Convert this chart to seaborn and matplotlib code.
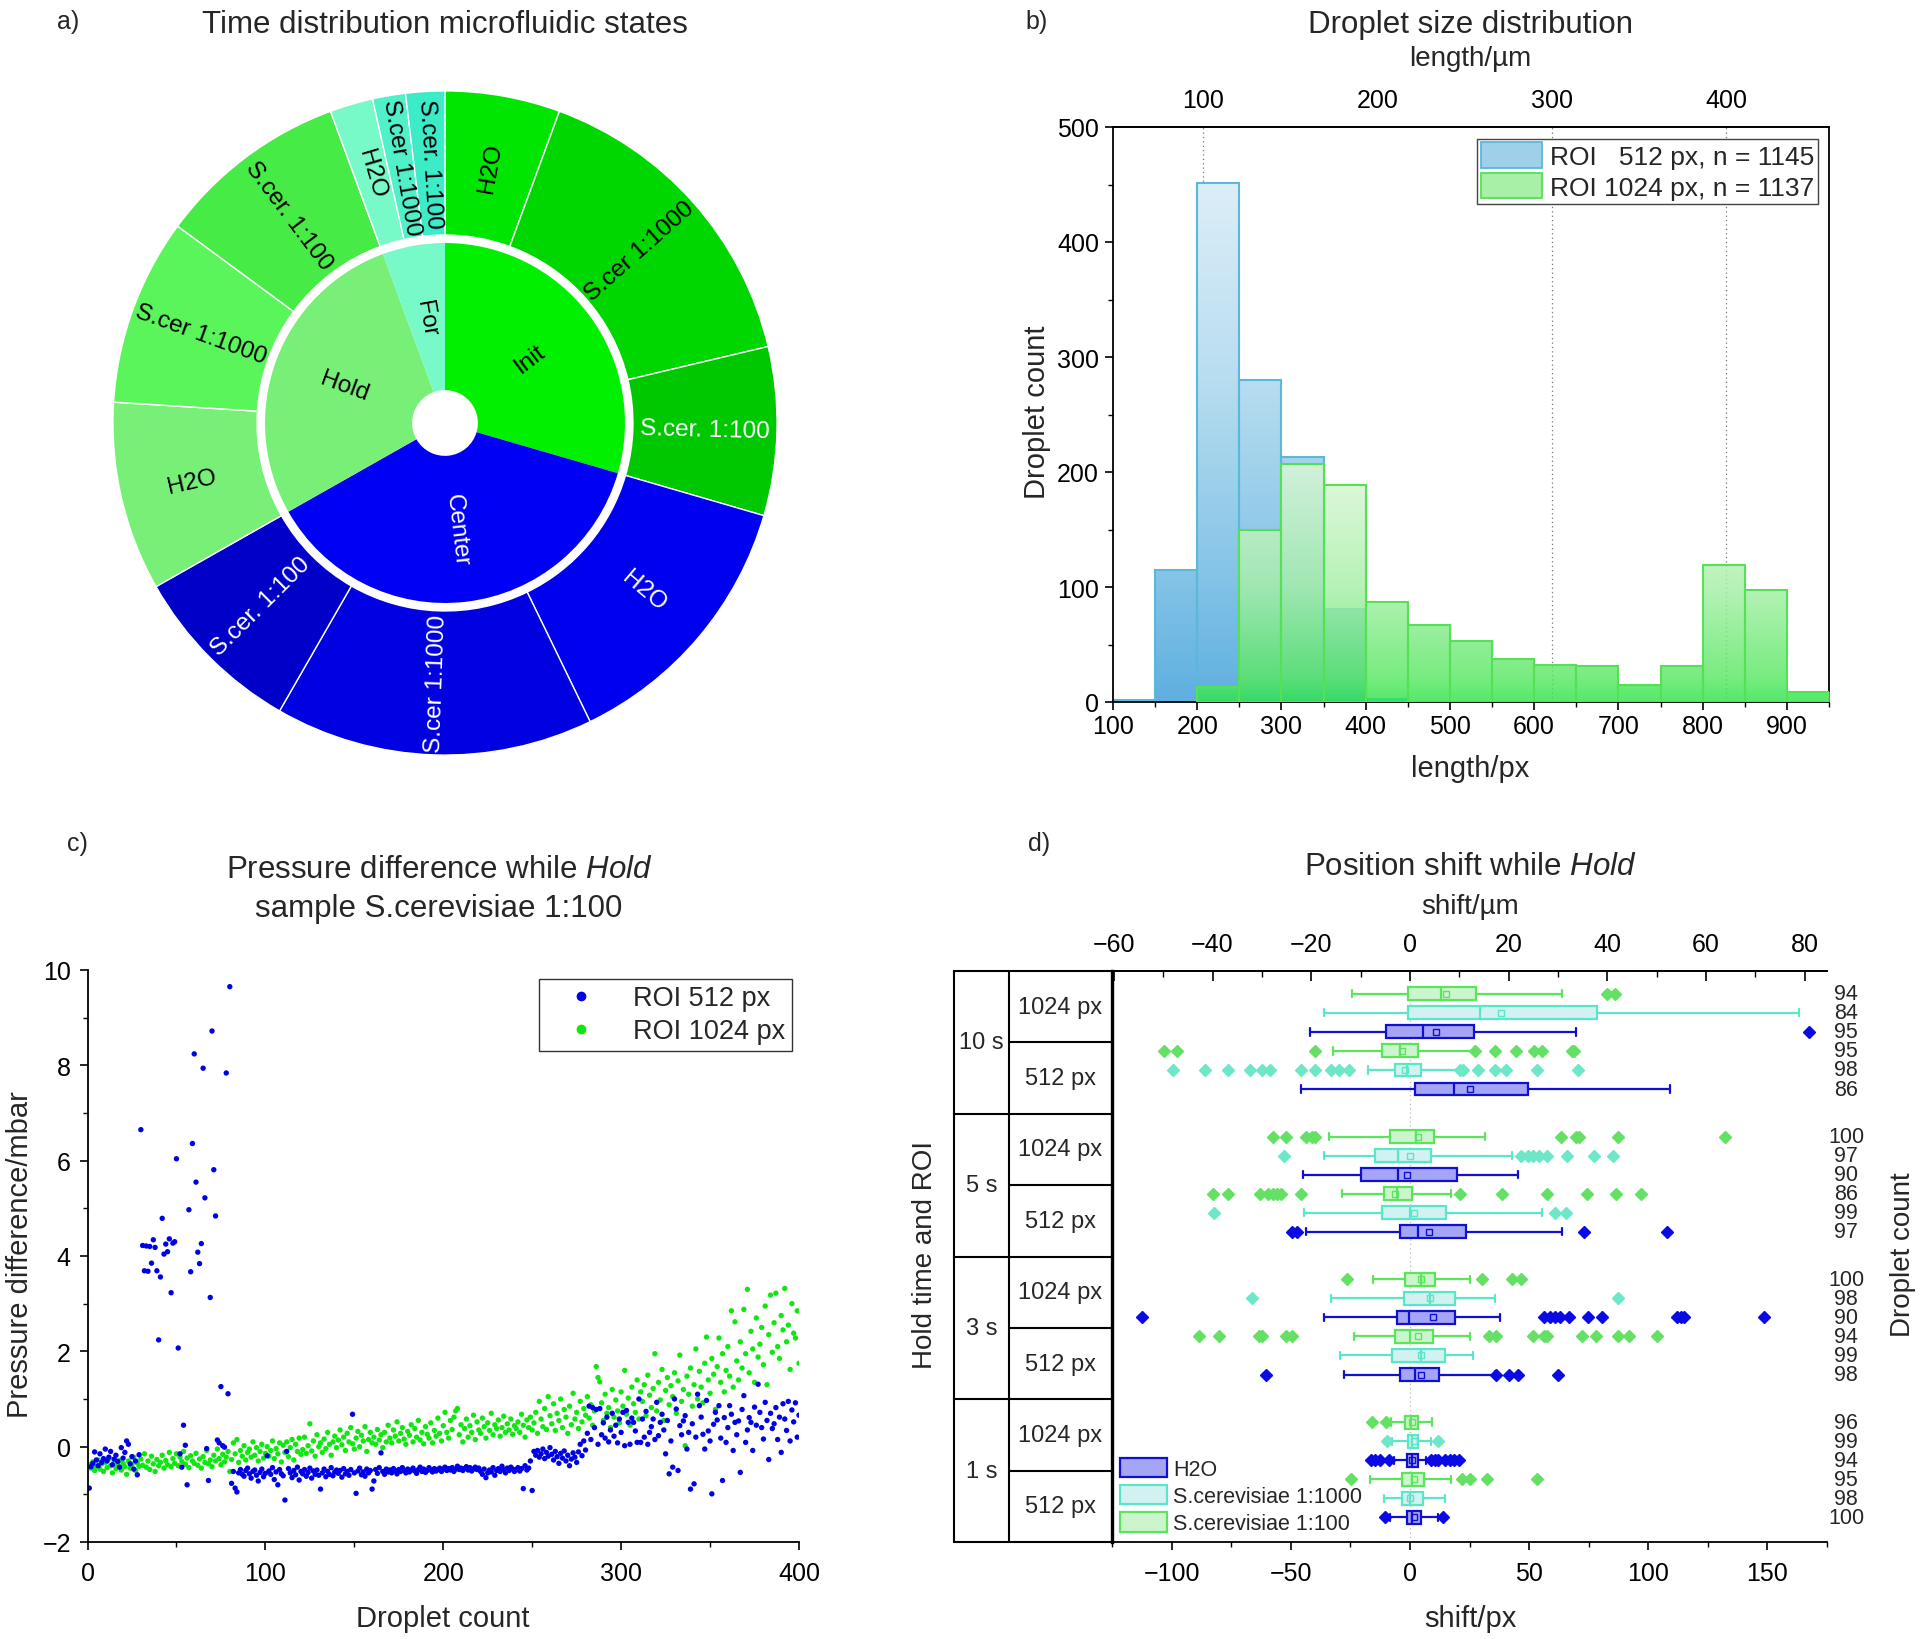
import numpy as np
import pandas as pd
import matplotlib
matplotlib.use("Agg")
import matplotlib.pyplot as plt
import matplotlib.transforms as mtransforms
import seaborn as sns
from matplotlib.patches import Patch
from matplotlib.lines import Line2D
from matplotlib.colors import LinearSegmentedColormap
from matplotlib.ticker import MultipleLocator, FixedLocator

# ======================= DATA =======================
# a) time distribution of microfluidic states (percent of total time, clockwise from top)
state_names = ["Init", "Center", "Hold", "For"]
sample_labels = ["H2O", "S.cer 1:1000", "S.cer. 1:100"]
init_share = [5.6, 15.7, 8.2]
center_share = [13.3, 15.5, 8.5]
hold_share = [9.2, 9.1, 9.3]
for_share = [2.1, 1.6, 1.9]
inner_colors = ["#00F000", "#0000F5", "#78F078", "#78FAC8"]
outer_colors = ["#00E600", "#00D700", "#00C800",
                "#0000F0", "#0000E0", "#0000C8",
                "#78F078", "#5AF55A", "#46EB46",
                "#78FAC8", "#50F0C8", "#3CEBC8"]
inner_text_colors = ["black", "white", "black", "black"]
outer_text_colors = ["black", "black", "white",
                     "white", "white", "white",
                     "black", "black", "black",
                     "black", "black", "black"]

# b) droplet size distribution
bin_edges = [100, 150, 200, 250, 300, 350, 400, 450, 500, 550, 600,
             650, 700, 750, 800, 850, 900, 950]
count_512 = [2, 115, 451, 280, 213, 81, 3, 0, 0, 0, 0, 0, 0, 0, 0, 0, 0]
count_1024 = [0, 0, 13, 150, 207, 189, 87, 67, 53, 37, 32, 31, 15, 31, 119, 97, 9]
um_ticks = [100, 200, 300, 400]
um_grid = [100, 300, 400]
px_per_um = 2.07

# c) pressure difference while Hold (mbar), droplets 1..400
pressure_512 = [
    -0.87, -0.42, -0.35, -0.11, -0.28, -0.40, -0.15, -0.33, -0.25, -0.05, -0.30, -0.22, -0.10, -0.38, -0.26, -0.18, -0.31, -0.43, -0.02, -0.24,
    -0.12, 0.12, 0.05, -0.36, -0.21, -0.47, -0.30, -0.59, -0.17, 6.65, 4.22, 3.69, 4.21, 3.68, 4.20, 3.85, 4.34, 4.18, 3.69, 2.24,
    3.56, 4.79, 4.04, 4.25, 4.09, 4.36, 3.23, 4.27, 4.30, 6.04, 2.07, -0.15, -0.43, 0.45, 0.03, -0.80, 4.97, 3.67, 6.36, 8.24,
    5.55, 4.08, 3.84, 4.26, 7.94, 5.22, -0.04, -0.71, 3.13, 8.72, 5.81, 4.84, 0.14, 0.08, 1.26, 0.02, -0.01, 7.84, 1.11, 9.65,
    -0.77, -0.52, -0.87, -0.95, -0.55, -0.48, -0.58, -0.62, -0.50, -0.45, -0.57, -0.66, -0.52, -0.49, -0.60, -0.72, -0.54, -0.47, -0.63, -0.56,
    -0.19, -0.51, -0.58, -0.44, -0.69, -0.53, -0.80, -0.48, -0.57, -0.61, -1.12, -0.10, -0.46, -0.55, -0.65, -0.50, -0.59, -0.43, -0.70, -0.52,
    -0.57, -0.48, -0.62, -0.54, -0.45, -0.66, -0.51, -0.58, -0.49, -0.60, -0.89, -0.55, -0.47, -0.63, -0.52, -0.58, -0.44, -0.61, -0.53, -0.49,
    -0.56, -0.50, -0.64, -0.46, -0.57, -0.52, -0.60, -0.48, 0.68, -0.55, -0.98, -0.51, -0.45, -0.59, -0.53, -0.62, -0.47, -0.55, -0.50, -0.89,
    -0.72, -0.48, -0.56, -0.44, -0.13, -0.52, -0.58, -0.47, -0.53, -0.49, -0.55, -0.46, -0.51, -0.57, -0.48, -0.52, -0.44, -0.50, -0.55, -0.47,
    -0.53, -0.49, -0.45, -0.51, -0.56, -0.48, -0.43, -0.52, -0.47, -0.54, -0.50, -0.44, -0.49, -0.53, -0.46, -0.51, -0.48, -0.45, -0.52, -0.47,
    -0.43, -0.50, -0.46, -0.49, -0.44, -0.52, -0.47, -0.41, -0.48, -0.45, -0.50, -0.46, -0.42, -0.49, -0.44, -0.51, -0.47, -0.43, -0.48, -0.45,
    -0.52, -0.58, -0.47, -0.65, -0.55, -0.49, -0.53, -0.44, -0.60, -0.50, -0.46, -0.52, -0.41, -0.48, -0.55, -0.45, -0.50, -0.43, -0.47, -0.52,
    -0.48, -0.44, -0.51, -0.46, -0.88, -0.40, -0.49, -0.45, -0.30, -0.92, -0.10, -0.18, -0.08, -0.22, -0.15, -0.05, -0.25, -0.12, -0.20, -0.02,
    -0.16, -0.28, -0.10, -0.21, -0.35, -0.14, -0.24, -0.09, -0.30, -0.18, -0.40, -0.26, -0.13, -0.22, -0.33, -0.11, 0.05, -0.19, 0.12, -0.07,
    0.28, 0.85, 0.15, 0.82, 0.40, 0.78, 0.05, 0.80, 0.25, 0.50, 0.18, 0.62, 0.10, 0.35, 0.70, 0.22, 0.45, 0.08, 0.58, 0.30,
    0.72, 0.02, 0.76, 0.51, 0.05, 0.60, 0.51, 0.33, 0.09, 1.00, 0.09, 0.58, 0.20, 0.74, 0.05, 0.30, 0.42, 0.58, 0.15, 0.93,
    0.23, 0.51, 0.68, 0.35, -0.15, 0.55, -0.57, 0.12, -0.43, 1.00, 0.79, -0.50, 0.44, 0.25, 0.54, 0.65, -0.05, 0.30, -0.89, 0.48,
    -0.78, 0.20, 1.10, 0.86, 0.62, 0.26, -0.05, 0.97, 0.33, 0.12, -0.99, 0.47, 0.72, 0.56, 0.86, 0.18, -0.71, 0.61, 0.09, 0.40,
    0.86, 0.68, -0.08, 0.51, 0.25, 0.54, -0.54, 0.78, 1.07, 0.09, 0.35, 0.61, 0.51, -0.08, 0.83, 0.45, 1.31, 0.72, 0.40, 0.16,
    0.93, 0.55, -0.27, 0.70, 0.38, 0.48, 0.82, 0.15, 0.62, -0.12, 0.90, 0.58, 0.34, 0.95, 0.12, 0.77, 0.52, 0.92, 0.20, 0.66]
pressure_1024 = [
    -0.38, -0.45, -0.32, -0.50, -0.41, -0.28, -0.47, -0.36, -0.52, -0.33, -0.44, -0.25, -0.40, -0.55, -0.31, -0.46, -0.38, -0.29, -0.49, -0.35,
    -0.42, -0.58, -0.30, -0.45, -0.37, -0.22, -0.50, -0.34, -0.41, -0.26, -0.39, -0.15, -0.43, -0.30, -0.48, -0.20, -0.36, -0.52, -0.27, -0.40,
    -0.33, -0.18, -0.45, -0.29, -0.38, -0.12, -0.42, -0.25, -0.35, -0.15, -0.40, -0.22, -0.31, -0.10, -0.37, -0.24, -0.44, -0.19, -0.30, -0.35,
    -0.14, -0.39, -0.26, -0.45, -0.21, -0.33, -0.08, -0.36, -0.28, -0.42, -0.18, -0.30, -0.05, -0.25, -0.38, -0.16, -0.32, -0.22, -0.10, -0.52,
    -0.27, 0.08, -0.15, 0.15, -0.33, -0.08, -0.20, 0.02, -0.28, -0.12, -0.05, -0.22, 0.10, -0.18, -0.02, -0.30, -0.10, 0.05, -0.24, -0.14,
    0.00, -0.20, -0.08, 0.12, -0.25, -0.04, -0.15, 0.08, -0.32, 0.03, -0.12, 0.10, -0.21, -0.02, 0.15, -0.28, 0.05, -0.10, 0.18, -0.16,
    -0.06, 0.20, -0.14, 0.02, 0.48, -0.09, 0.12, -0.20, 0.25, 0.00, 0.08, -0.12, 0.16, -0.04, 0.30, 0.05, -0.18, 0.10, 0.22, -0.02,
    0.14, 0.35, 0.04, 0.20, -0.08, 0.28, 0.10, 0.40, 0.06, -0.05, 0.18, 0.32, 0.00, 0.24, 0.12, 0.42, -0.10, 0.15, 0.30, 0.08,
    0.20, 0.05, 0.36, 0.14, 0.25, -0.02, 0.30, 0.10, 0.45, 0.18, 0.08, 0.35, 0.22, 0.52, 0.12, 0.28, 0.40, 0.16, 0.05, 0.32,
    0.24, 0.46, 0.10, 0.38, 0.20, 0.55, 0.14, 0.30, 0.06, 0.42, 0.26, 0.18, 0.50, 0.08, 0.34, 0.22, 0.60, 0.28, 0.12, 0.44,
    0.72, 0.30, 0.18, 0.55, 0.36, 0.62, 0.75, 0.80, 0.25, 0.46, 0.10, 0.38, 0.58, 0.20, 0.44, 0.30, 0.66, 0.15, 0.52, 0.35,
    0.28, 0.60, 0.42, 0.18, 0.50, 0.34, 0.70, 0.25, 0.46, 0.38, 0.56, 0.22, 0.40, 0.64, 0.30, 0.48, 0.35, 0.58, 0.26, 0.44,
    0.38, 0.52, 0.30, 0.68, 0.45, 0.20, 0.56, 0.40, 0.62, 0.35, 0.50, 0.72, 0.28, 0.95, 0.58, 0.42, 0.80, 0.36, 1.05, 0.65,
    0.48, 0.90, 0.34, 0.70, 0.55, 1.00, 0.40, 0.78, 0.62, 0.28, 0.85, 0.46, 1.12, 0.58, 0.72, 0.38, 0.95, 0.52, 0.80, 0.66,
    1.05, 0.60, 0.88, 0.45, 0.75, 1.68, 1.45, 1.36, 0.92, 0.55, 1.10, 0.70, 0.82, 0.40, 1.20, 0.62, 0.98, 0.75, 0.50, 1.15,
    0.85, 1.60, 0.68, 1.02, 0.45, 1.25, 0.90, 0.72, 1.40, 0.58, 1.15, 0.95, 1.30, 0.65, 1.50, 1.08, 0.82, 1.22, 1.95, 0.75,
    1.35, 0.98, 1.62, 0.55, 1.18, 1.45, 0.88, 1.28, 1.05, 1.55, 0.70, 1.38, 1.92, 0.95, 1.20, 0.02, 1.48, 1.10, 1.65, 0.85,
    1.30, 2.05, 1.00, 1.58, 1.25, 0.92, 1.75, 2.30, 1.40, 1.12, 1.85, 1.52, 0.78, 1.68, 2.28, 1.35, 1.95, 1.15, 1.60, 2.10,
    1.48, 2.85, 1.25, 2.62, 1.80, 1.40, 2.20, 1.65, 2.88, 1.95, 3.30, 1.55, 2.42, 2.05, 1.35, 2.70, 1.88, 2.15, 2.50, 1.72,
    2.95, 1.30, 2.35, 3.18, 1.98, 2.60, 3.22, 2.10, 1.85, 2.75, 2.45, 3.32, 2.20, 2.55, 1.62, 3.00, 2.38, 2.28, 2.85, 1.75]

# d) position shift while Hold (px); rows per hold time: 1024 px (1:100, 1:1000, H2O), 512 px (1:100, 1:1000, H2O)
hold_times = ["10 s", "5 s", "3 s", "1 s"]
roi_names = ["1024 px", "512 px"]
row_samples = ["S.cerevisiae 1:100", "S.cerevisiae 1:1000", "H2O"]
box_q1 = [-1.0, -1.0, -10.0, -11.9, -6.1, 2.1,
          -8.2, -14.6, -20.6, -10.8, -11.6, -4.0,
          -1.9, -2.4, -5.3, -6.1, -7.4, -4.0,
          -1.9, -1.0, -1.3, -3.2, -3.2, -1.3]
box_med = [13.2, 29.6, 5.3, -4.0, -1.3, 18.5,
           2.6, -4.8, -5.0, -5.3, 0.0, 3.4,
           4.5, 8.5, -0.3, 0.0, 4.5, 2.1,
           0.3, 1.0, 1.0, 0.8, 0.0, 0.8]
box_q3 = [27.8, 78.3, 26.7, 3.2, 4.5, 49.7,
          10.3, 8.7, 19.8, 0.8, 15.1, 23.5,
          10.6, 18.8, 18.8, 9.8, 14.6, 12.2,
          3.2, 3.2, 3.2, 6.1, 5.3, 4.5]
whisk_lo = [-24.3, -36.2, -42.0, -32.3, -17.7, -45.5,
            -33.9, -36.2, -45.0, -28.6, -44.4, -43.7,
            -15.6, -33.1, -36.2, -23.5, -29.4, -27.8,
            -8.0, -7.4, -6.6, -16.9, -10.8, -8.2]
whisk_hi = [63.8, 163.2, 69.8, 27.0, 20.9, 109.3,
            31.7, 42.9, 45.5, 17.2, 55.6, 64.0,
            25.1, 35.7, 37.8, 25.1, 26.5, 35.7,
            9.3, 8.7, 6.6, 17.2, 14.6, 11.9]
box_mean = [15.3, 38.4, 10.8, -3.2, -2.1, 25.1,
            3.4, 0.0, -1.3, -6.1, 1.9, 7.9,
            4.5, 8.5, 9.8, 3.2, 4.5, 4.8,
            0.8, 1.6, 1.0, 1.9, 0.0, 1.9]
box_fliers = [
    [82.8, 86.0],
    [],
    [167.5],
    [-103.2, -97.9, -40.0, 27.5, 35.7, 44.4, 51.9, 55.3, 68.0, 68.8],
    [-99.2, -86.0, -76.2, -67.2, -62.2, -58.5, -45.5, -39.7, -33.1, -29.6, -25.7, 21.2, 22.2, 28.6, 35.7, 40.5, 53.4, 70.4],
    [],
    [-57.4, -51.9, -43.7, -41.0, -39.7, 63.5, 69.6, 70.9, 87.3, 132.3],
    [-52.9, 46.6, 49.5, 51.6, 54.2, 57.4, 65.9, 77.2, 85.4],
    [],
    [-82.8, -76.2, -63.0, -59.5, -57.4, -55.6, -54.2, -45.8, 21.2, 38.6, 57.4, 74.3, 86.5, 97.1],
    [-82.3, 60.8, 65.3],
    [-49.5, -47.4, 73.0, 107.9],
    [-26.5, 30.4, 42.9, 46.8],
    [-66.4, 87.3],
    [-112.4, 56.1, 58.7, 60.8, 63.0, 66.7, 74.6, 80.7, 111.9, 113.8, 115.1, 148.4],
    [-88.6, -80.2, -63.5, -62.2, -52.1, -49.5, 33.1, 36.2, 51.6, 56.1, 57.4, 72.2, 78.0, 87.3, 92.1, 103.7],
    [],
    [-60.3, 36.2, 41.5, 45.5, 62.2],
    [-15.9, -10.0],
    [-9.8, 11.9],
    [-16.4, -14.6, -12.7, -8.7, 9.0, 10.6, 11.9, 14.6, 16.7, 18.5, 20.4],
    [-24.9, 22.0, 25.1, 32.5, 53.4],
    [],
    [-10.3, 13.8]]
box_n = [94, 84, 95, 95, 98, 86,
         100, 97, 90, 86, 99, 97,
         100, 98, 90, 94, 99, 98,
         96, 99, 94, 95, 98, 100]
sample_edge = {"H2O": "#1010D0", "S.cerevisiae 1:1000": "#5AE6C8", "S.cerevisiae 1:100": "#5AE65A"}
sample_face = {"H2O": "#A5A5F5", "S.cerevisiae 1:1000": "#D2F2F2", "S.cerevisiae 1:100": "#CDF5CD"}
sample_flier = {"H2O": "#0A0AE6", "S.cerevisiae 1:1000": "#6EE6C8", "S.cerevisiae 1:100": "#64E164"}

# ======================= STYLE =======================
W, H = 1925, 1640
sns.set_theme(style="ticks")
plt.rcParams["font.family"] = ["Liberation Sans", "DejaVu Sans"]
plt.rcParams["mathtext.fontset"] = "custom"
plt.rcParams["mathtext.rm"] = "Liberation Sans"
plt.rcParams["mathtext.it"] = "Liberation Sans:italic"
plt.rcParams["axes.linewidth"] = 1.2
plt.rcParams["axes.edgecolor"] = "black"
plt.rcParams["xtick.color"] = "black"
plt.rcParams["ytick.color"] = "black"

TITLE = 22.5
LABEL = 21
TICK = 18

fig = plt.figure(figsize=(W / 100, H / 100), dpi=100)
fig.patch.set_facecolor("white")


def ftext(x, y, s, **kw):
    fig.text(x / W, 1 - y / H, s, ha=kw.pop("ha", "center"), va=kw.pop("va", "center"), **kw)


def axes_px(left, top, right, bottom):
    return fig.add_axes([left / W, 1 - bottom / H, (right - left) / W, (bottom - top) / H])


def label_at(ax, axis, x, y):
    pos = ax.get_position()
    ax_x = (x / W - pos.x0) / pos.width
    ax_y = ((1 - y / H) - pos.y0) / pos.height
    a = ax.xaxis if axis == "x" else ax.yaxis
    a.set_label_coords(ax_x, ax_y)
    a.label.set_verticalalignment("center")


def style_ticks(ax, which_axes="both", pad=5, length=6, minor_len=3.5):
    ax.tick_params(axis=which_axes, which="major", direction="out", length=length, width=1.2,
                   labelsize=TICK, pad=pad)
    ax.tick_params(axis=which_axes, which="minor", direction="out", length=minor_len, width=1.0)


# ======================= a) sunburst =======================
axa = axes_px(95, 74, 795, 774)
outer_vals = init_share + center_share + hold_share + for_share
inner_vals = [sum(init_share), sum(center_share), sum(hold_share), sum(for_share)]
R_OUT, R_MID, R_IN, R_HOLE = 1.0, 0.566, 0.542, 0.099
wo, _ = axa.pie(outer_vals, radius=R_OUT, colors=outer_colors, startangle=90, counterclock=False,
                wedgeprops=dict(width=R_OUT - R_MID, edgecolor="white", linewidth=1.0))
wi, _ = axa.pie(inner_vals, radius=R_IN, colors=inner_colors, startangle=90, counterclock=False,
                wedgeprops=dict(width=R_IN - R_HOLE, edgecolor="none", linewidth=0))
axa.set_xlim(-1.054, 1.054)
axa.set_ylim(-1.054, 1.054)
axa.set_aspect("equal")
axa.axis("off")


def radial_label(ax, wedge, r, text, color):
    ang = (wedge.theta1 + wedge.theta2) / 2.0
    a = (ang + 180) % 360 - 180
    if abs(a) <= 90:
        rot = a
    else:
        rot = a - 180 if a > 0 else a + 180
    rad = np.deg2rad(ang)
    ax.text(r * np.cos(rad), r * np.sin(rad), text, rotation=rot, rotation_mode="anchor",
            ha="center", va="center", color=color, fontsize=17.5)


outer_labels = sample_labels * 4
for w, lab, col in zip(wo, outer_labels, outer_text_colors):
    radial_label(axa, w, 0.783, lab, col)
for w, lab, col in zip(wi, state_names, inner_text_colors):
    radial_label(axa, w, 0.322, lab, col)

ftext(68, 22, "a)", fontsize=18)
ftext(445, 25, "Time distribution microfluidic states", fontsize=TITLE)

# ======================= b) histogram =======================
axb = axes_px(1113, 128, 1829, 703)
centers = [(a + b) / 2 for a, b in zip(bin_edges[:-1], bin_edges[1:])]
n0 = len(axb.patches)
sns.histplot(x=centers, weights=count_512, bins=bin_edges, ax=axb, stat="count",
             element="bars", fill=True, legend=False)
bars_512 = list(axb.patches[n0:])
n1 = len(axb.patches)
sns.histplot(x=centers, weights=count_1024, bins=bin_edges, ax=axb, stat="count",
             element="bars", fill=True, legend=False)
bars_1024 = list(axb.patches[n1:])

blue_cmap = LinearSegmentedColormap.from_list(
    "blu", [(0.0, "#5FAFE1"), (0.23, "#86C5E7"), (0.56, "#B8DDF0"), (0.9, "#DCEEF8"), (1.0, "#E4F3FA")])
green_cmap = LinearSegmentedColormap.from_list(
    "grn", [(0.0, "#2DE64B"), (0.04, "#5AE864"), (0.2, "#A8F0A8"), (0.42, "#DFF8DA"), (1.0, "#EEFBEE")])
grad = np.linspace(0, 1, 256).reshape(-1, 1)


def fill_gradient(ax, bars, cmap, edge, alpha, z):
    for p in bars:
        h = p.get_height()
        if h <= 0:
            p.set_visible(False)
            continue
        x0 = p.get_x()
        w = p.get_width()
        im = ax.imshow(grad, cmap=cmap, origin="lower", extent=(x0, x0 + w, 0, 500),
                       aspect="auto", alpha=alpha, zorder=z, interpolation="bilinear")
        im.set_clip_path(p)
        p.set_facecolor("none")
        p.set_edgecolor(edge)
        p.set_linewidth(1.5)
        p.set_alpha(1)
        p.set_zorder(z + 0.05)


fill_gradient(axb, bars_512, blue_cmap, "#5BB8DB", 1.0, 2)
fill_gradient(axb, bars_1024, green_cmap, "#55E055", 0.82, 3)

axb.set_xlim(100, 950)
axb.set_ylim(0, 500)
for t in um_grid:
    axb.axvline(t * px_per_um, color="#777777", linestyle=(0, (1, 2.5)), linewidth=0.9, zorder=1)
for s in ["top", "right", "left", "bottom"]:
    axb.spines[s].set_visible(True)
    axb.spines[s].set_linewidth(1.3)
axb.xaxis.set_major_locator(MultipleLocator(100))
axb.xaxis.set_minor_locator(MultipleLocator(50))
axb.yaxis.set_major_locator(MultipleLocator(100))
axb.yaxis.set_minor_locator(MultipleLocator(50))
style_ticks(axb, pad=4)
axb.tick_params(axis="x", pad=3)
axb.tick_params(top=False, right=False, which="both")
secb = axb.secondary_xaxis("top", functions=(lambda x: x / px_per_um, lambda u: u * px_per_um))
secb.xaxis.set_major_locator(FixedLocator(um_ticks))
secb.tick_params(axis="x", which="major", length=0, labelsize=TICK, pad=11)
secb.tick_params(axis="x", which="minor", length=0)
axb.set_xlabel("length/px", fontsize=LABEL)
axb.set_ylabel("Droplet count", fontsize=LABEL)
label_at(axb, "x", 1470, 769)
label_at(axb, "y", 1037, 412)
leg_b = axb.legend(handles=[Patch(facecolor="#9ED0EA", edgecolor="#5BB8DB", linewidth=1.3),
                            Patch(facecolor="#A8F0A8", edgecolor="#55E055", linewidth=1.3)],
                   labels=["ROI   512 px, n = 1145", "ROI 1024 px, n = 1137"],
                   loc="upper right", bbox_to_anchor=(0.985, 0.98), fontsize=19, frameon=True,
                   fancybox=False, edgecolor="#444444", framealpha=1, handlelength=2.3,
                   handleheight=1.1, handletextpad=0.3, labelspacing=0.15, borderpad=0.15,
                   borderaxespad=0.0)
leg_b.get_frame().set_linewidth(1.0)
ftext(1037, 22, "b)", fontsize=18)
ftext(1470, 25, "Droplet size distribution", fontsize=TITLE)
ftext(1470, 59, "length/µm", fontsize=20)

# ======================= c) scatter =======================
axc = axes_px(87.5, 971, 799, 1543)
droplet_idx = list(range(1, len(pressure_512) + 1))
df_c = pd.DataFrame({
    "Droplet count": droplet_idx + droplet_idx,
    "Pressure": pressure_1024 + pressure_512,
    "ROI": ["ROI 1024 px"] * len(pressure_1024) + ["ROI 512 px"] * len(pressure_512)})
pal_c = {"ROI 512 px": "#0000E6", "ROI 1024 px": "#10E610"}
sns.scatterplot(data=df_c, x="Droplet count", y="Pressure", hue="ROI", palette=pal_c,
                s=15, linewidth=0, ax=axc, legend=False)
axc.set_xlim(0, 400)
axc.set_ylim(-2, 10)
axc.xaxis.set_major_locator(MultipleLocator(100))
axc.xaxis.set_minor_locator(MultipleLocator(50))
axc.yaxis.set_major_locator(MultipleLocator(2))
axc.yaxis.set_minor_locator(MultipleLocator(1))
sns.despine(ax=axc)
axc.spines["left"].set_linewidth(1.3)
axc.spines["bottom"].set_linewidth(1.3)
style_ticks(axc, pad=6)
axc.tick_params(axis="x", pad=8)
axc.set_xlabel("Droplet count", fontsize=LABEL)
axc.set_ylabel("Pressure difference/mbar", fontsize=LABEL)
label_at(axc, "x", 443, 1619)
label_at(axc, "y", 20, 1255)
leg_c = axc.legend(handles=[Line2D([], [], ls="none", marker="o", markersize=6, color=pal_c["ROI 512 px"]),
                            Line2D([], [], ls="none", marker="o", markersize=6, color=pal_c["ROI 1024 px"])],
                   labels=["ROI 512 px", "ROI 1024 px"], loc="upper right", bbox_to_anchor=(0.99, 0.985),
                   fontsize=19.5, frameon=True, fancybox=False, edgecolor="#333333", framealpha=1,
                   handlelength=2.6, handletextpad=0.6, labelspacing=0.25, borderpad=0.25,
                   borderaxespad=0.0)
leg_c.get_frame().set_linewidth(1.0)
ftext(77, 844, "c)", fontsize=18)
ftext(439, 870, r"Pressure difference while $\mathit{Hold}$", fontsize=TITLE)
ftext(439, 909, "sample S.cerevisiae 1:100", fontsize=TITLE)

# ======================= d) box plots =======================
GROUP_H = 7.5
axd = axes_px(1112, 972, 1827, 1543)
axt = axes_px(954, 972, 1112, 1543)
n_groups = len(hold_times)
row_pos = []
row_sample = []
for g in range(n_groups):
    for r in range(len(roi_names)):
        for k, smp in enumerate(row_samples):
            row_pos.append(g * GROUP_H + 1.2 + r * len(row_samples) + k)
            row_sample.append(smp)

for i, (y, smp) in enumerate(zip(row_pos, row_sample)):
    stats = [dict(med=box_med[i], q1=box_q1[i], q3=box_q3[i], whislo=whisk_lo[i],
                  whishi=whisk_hi[i], mean=box_mean[i], fliers=box_fliers[i])]
    ec = sample_edge[smp]
    kw = dict(positions=[y], widths=0.68, patch_artist=True, showmeans=True, meanline=False,
              manage_ticks=False, capwidths=0.38,
              boxprops=dict(facecolor=sample_face[smp], edgecolor=ec, linewidth=1.6),
              medianprops=dict(color=ec, linewidth=1.6),
              whiskerprops=dict(color=ec, linewidth=1.6),
              capprops=dict(color=ec, linewidth=1.6),
              flierprops=dict(marker="D", markersize=6.5, markerfacecolor=sample_flier[smp],
                              markeredgecolor=sample_flier[smp], linestyle="none"),
              meanprops=dict(marker="s", markersize=4.5, markerfacecolor="none",
                             markeredgecolor=ec, markeredgewidth=1.0))
    try:
        axd.bxp(stats, orientation="horizontal", **kw)
    except TypeError:
        axd.bxp(stats, vert=False, **kw)

axd.axvline(0, color="#BBBBBB", linestyle=(0, (1, 2.5)), linewidth=0.9, zorder=0)
axd.set_xlim(-125, 175)
axd.set_ylim(n_groups * GROUP_H, 0)
axd.set_yticks([])
axd.xaxis.set_major_locator(MultipleLocator(50))
axd.xaxis.set_minor_locator(MultipleLocator(25))
axd.spines["right"].set_visible(False)
axd.spines["left"].set_linewidth(2.4)
axd.spines["top"].set_linewidth(1.3)
axd.spines["bottom"].set_linewidth(1.3)
style_ticks(axd, which_axes="x", pad=8)
axd.tick_params(axis="x", top=False)
secd = axd.secondary_xaxis("top", functions=(lambda x: x / px_per_um, lambda u: u * px_per_um))
secd.xaxis.set_major_locator(MultipleLocator(20))
secd.xaxis.set_minor_locator(MultipleLocator(10))
secd.tick_params(axis="x", which="major", direction="in", length=7, width=1.2, labelsize=TICK, pad=11)
secd.tick_params(axis="x", which="minor", direction="in", length=4, width=1.0)
secd.spines["top"].set_linewidth(1.3)
axd.set_xlabel("shift/px", fontsize=LABEL)
label_at(axd, "x", 1470, 1619)

trans_d = mtransforms.blended_transform_factory(axd.transAxes, axd.transData)
for y, n in zip(row_pos, box_n):
    axd.text(1.0266, y, str(n), transform=trans_d, ha="center", va="center", fontsize=15.5,
             clip_on=False)

leg_d = axd.legend(handles=[Patch(facecolor=sample_face[s], edgecolor=sample_edge[s], linewidth=1.6)
                            for s in ["H2O", "S.cerevisiae 1:1000", "S.cerevisiae 1:100"]],
                   labels=["H2O", "S.cerevisiae 1:1000", "S.cerevisiae 1:100"],
                   loc="lower left", bbox_to_anchor=(0.0, 0.0), frameon=False, fontsize=15.5,
                   handlelength=2.2, handleheight=1.0, handletextpad=0.3, labelspacing=0.25,
                   borderpad=0.25, borderaxespad=0.1)

# table of hold time / ROI
axt.set_xlim(0, 1)
axt.set_ylim(n_groups * GROUP_H, 0)
axt.axis("off")
DIV = 0.348
for g in range(n_groups + 1):
    axt.plot([0, 1], [g * GROUP_H, g * GROUP_H], color="black", lw=1.5, clip_on=False,
             solid_capstyle="projecting")
for g in range(n_groups):
    axt.plot([DIV, 1], [g * GROUP_H + GROUP_H / 2] * 2, color="black", lw=1.5, clip_on=False)
    axt.text(DIV / 2, g * GROUP_H + GROUP_H / 2, hold_times[g], ha="center", va="center", fontsize=17)
    for r, roi in enumerate(roi_names):
        axt.text((DIV + 1) / 2, g * GROUP_H + GROUP_H / 4 + r * GROUP_H / 2, roi,
                 ha="center", va="center", fontsize=17)
axt.plot([0, 0], [0, n_groups * GROUP_H], color="black", lw=1.5, clip_on=False)
axt.plot([DIV, DIV], [0, n_groups * GROUP_H], color="black", lw=1.5, clip_on=False)

ftext(1039, 844, "d)", fontsize=18)
ftext(1470, 867, r"Position shift while $\mathit{Hold}$", fontsize=TITLE)
ftext(1470, 907, "shift/µm", fontsize=20)
ftext(925, 1255, "Hold time and ROI", fontsize=20, rotation=90)
ftext(1903, 1255, "Droplet count", fontsize=20, rotation=90)

fig.savefig("out.png", dpi=100, facecolor="white")
